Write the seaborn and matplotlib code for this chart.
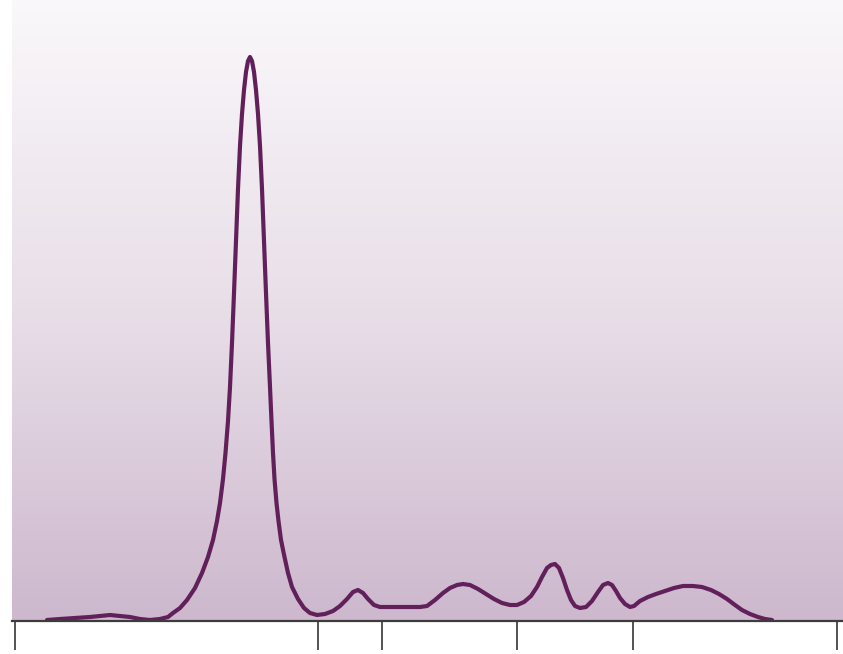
import numpy as np
import matplotlib
matplotlib.use("Agg")
import matplotlib.pyplot as plt
from matplotlib.colors import LinearSegmentedColormap
import seaborn as sns
import pandas as pd

sns.set_theme(style="white")

# ---- data ----
curve_x = [47, 60, 75, 90, 100, 110, 120, 130, 140, 150, 160, 168, 173, 180, 187, 195,
           202, 208, 213, 217, 220, 223, 225.5, 228, 230, 232, 234, 236, 238, 240, 242,
           244, 246, 248, 250, 252, 254, 256, 258, 260, 262, 264, 266, 268, 270, 271.5,
           273, 274.5, 276.5, 278.5, 281, 284.5, 288, 292, 298, 304, 310, 317,
           325, 333, 340, 347, 353, 358, 363, 368, 374, 380, 390, 400, 410, 420, 427,
           435, 443, 450, 457, 463, 470, 478, 486, 494, 502, 510, 517, 524, 531, 537,
           542, 547, 551, 555, 559, 563, 567, 571, 575, 580, 586, 592, 598, 603, 608,
           612, 616, 620, 625, 630, 634, 640, 648, 656, 665, 674, 683, 693, 702, 711,
           719, 727, 735, 742, 750, 758, 765, 772]
curve_y = [1, 2, 3, 4, 5, 6, 5, 4, 2, 1, 2, 4, 8, 13, 21, 33,
           48, 64, 81, 100, 118, 142, 168, 200, 234, 278, 328, 380, 432, 475, 507,
           531, 549, 560, 564, 560, 549, 531, 507, 475, 432, 380, 328, 278, 234, 200,
           168, 142, 118, 100, 81, 64, 48, 34, 22, 13, 8, 6,
           7, 10, 15, 22, 29, 31, 28, 22, 16, 14, 14, 14, 14, 14, 15,
           21, 28, 33, 36, 37, 36, 32, 27, 22, 18, 16, 16, 19, 25, 34,
           44, 53, 56, 57, 53, 43, 31, 21, 15, 13, 14, 20, 29, 36, 38,
           36, 30, 23, 17, 14, 15, 20, 24, 27, 30, 33, 35, 35, 34, 31,
           27, 22, 16, 11, 7, 4, 2, 1]
tick_positions = [15, 318, 382, 517, 633, 837]
tick_labels = ["", "", "", "", "", ""]

df = pd.DataFrame({"x": curve_x, "y": curve_y})

W, H = 843, 654
fig = plt.figure(figsize=(W / 100, H / 100), dpi=100)
fig.patch.set_facecolor("white")
ax = fig.add_axes([12 / W, 33 / H, (W - 12) / W, 621 / H])
ax.set_xlim(12, 843)
ax.set_ylim(0, 621)

# vertical gradient background: near white at top, mauve at bottom
cmap = LinearSegmentedColormap.from_list("bg", ["#faf8fa", "#e8dee8", "#cdb8cd"])
grad = np.linspace(0, 1, 256).reshape(-1, 1)
ax.imshow(grad, aspect="auto", cmap=cmap, extent=[12, 843, 0, 621],
          origin="upper", zorder=0, interpolation="bicubic")

sns.lineplot(data=df, x="x", y="y", ax=ax, color="#62205a", linewidth=3.0,
             estimator=None, sort=False, zorder=3)

for s in ["top", "right", "left"]:
    ax.spines[s].set_visible(False)
ax.spines["bottom"].set_color("#3c3c3c")
ax.spines["bottom"].set_linewidth(1.6)
ax.spines["bottom"].set_zorder(4)

ax.set_xticks(tick_positions)
ax.set_xticklabels(tick_labels)
ax.set_yticks([])
ax.tick_params(axis="x", direction="out", length=21, width=1.3, color="#444444",
               bottom=True, labelbottom=False)
ax.set_xlabel("")
ax.set_ylabel("")
ax.grid(False)

fig.savefig("out.png", dpi=100)
